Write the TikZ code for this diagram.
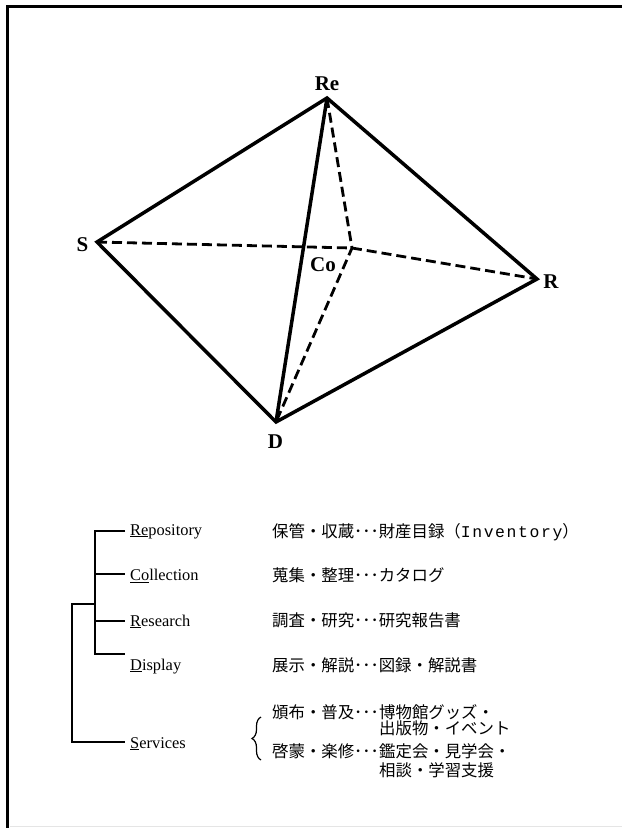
\documentclass[tikz,border=0pt]{standalone}
\usepackage{fontspec}
\setmainfont{Liberation Serif}
\newfontfamily\jpfont{Noto Sans CJK JP}
\newfontfamily\invfont[LetterSpace=10]{Liberation Mono}
\usetikzlibrary{decorations.pathreplacing}

\begin{document}
\begin{tikzpicture}[x=1pt, y=-1pt,
    edge/.style={line width=3.5pt, line join=miter},
    hidden/.style={line width=2.8pt, dash pattern=on 10pt off 5pt},
    vlabel/.style={font=\fontsize{21}{24}\selectfont\bfseries, anchor=base, inner sep=0pt},
    branch/.style={line width=2.2pt},
    item/.style={font=\fontsize{16.4}{19}\selectfont, anchor=base west, inner xsep=5pt, inner ysep=0pt},
    jtext/.style={font=\fontsize{16.4}{19}\selectfont\jpfont, anchor=base west, inner sep=0pt}]
    % 1. Khung
    \useasboundingbox (0,0) rectangle (622,828);
    \draw[line width=3.5pt] (7.5,828) -- (7.5,6.5) -- (622,6.5);
    \draw[black!10, line width=1pt] (9.5,826.5) -- (622,826.5);

    % 2. Dinh va canh cua hinh chop
    \coordinate (Re) at (327,98);
    \coordinate (S) at (97,242);
    \coordinate (R) at (537,279);
    \coordinate (D) at (276,422);
    \coordinate (Co) at (352,248);
    \draw[hidden] (S) -- (Co) -- (R);
    \draw[hidden] (Re) -- (Co) -- (D);
    \draw[edge] (S) -- (Re) -- (R) -- (D) -- cycle;
    \draw[edge] (Re) -- (D);
    \node[vlabel] (lRe) at (327,90.7) {Re};
    \node[vlabel] (lS) at (82.5,251.7) {S};
    \node[vlabel] (lR) at (551,288) {R};
    \node[vlabel] (lD) at (275.5,448.5) {D};
    \node[vlabel] (lCo) at (323,271) {Co};

    % 3. Cay chuc nang
    \node[item] (rep) at (125,535) {\underline{Re}pository};
    \node[item] (col) at (125,580.5) {\underline{Co}llection};
    \node[item] (res) at (125,626) {\underline{R}esearch};
    \node[item] (dis) at (125,670) {\underline{D}isplay};
    \node[item] (ser) at (125,748) {\underline{S}ervices};
    \coordinate (tA) at (95,531);
    \coordinate (tB) at (95,574);
    \coordinate (tC) at (95,621);
    \coordinate (tD) at (95,654);
    \coordinate (tM) at (95,604);
    \coordinate (tO) at (72,604);
    \coordinate (tS) at (72,742);
    \draw[branch] (tA -| rep.west) -- (tA) -- (tD) -- (tD -| dis.west);
    \draw[branch] (tB) -- (tB -| col.west);
    \draw[branch] (tC) -- (tC -| res.west);
    \draw[branch] (tM) -- (tO) -- (tS) -- (tS -| ser.west);

    % 4. Noi dung
    \node[jtext] (jrep) at (272,537) {保管・収蔵･･･財産目録（{\fontsize{16.4}{19}\invfont Inventory}）};
    \node[jtext] (jcol) at (272,581) {蒐集・整理･･･カタログ};
    \node[jtext] (jres) at (272,626) {調査・研究･･･研究報告書};
    \node[jtext] (jdis) at (272,671) {展示・解説･･･図録・解説書};
    \node[jtext] (s1a) at (272,718) {頒布・普及･･･};
    \node[jtext] (s1b) at (s1a.base east) {博物館グッズ・};
    \node[jtext] (s1c) at ([yshift=-16pt]s1b.base west) {出版物・イベント};
    \node[jtext] (s2a) at (272,757) {啓蒙・楽修･･･};
    \node[jtext] (s2b) at (s2a.base east) {鑑定会・見学会・};
    \node[jtext] (s2c) at ([yshift=-19pt]s2b.base west) {相談・学習支援};
    \draw[line width=1.2pt, decorate, decoration={brace, amplitude=9pt}] (261,760) -- (261,717);
\end{tikzpicture}
\end{document}
